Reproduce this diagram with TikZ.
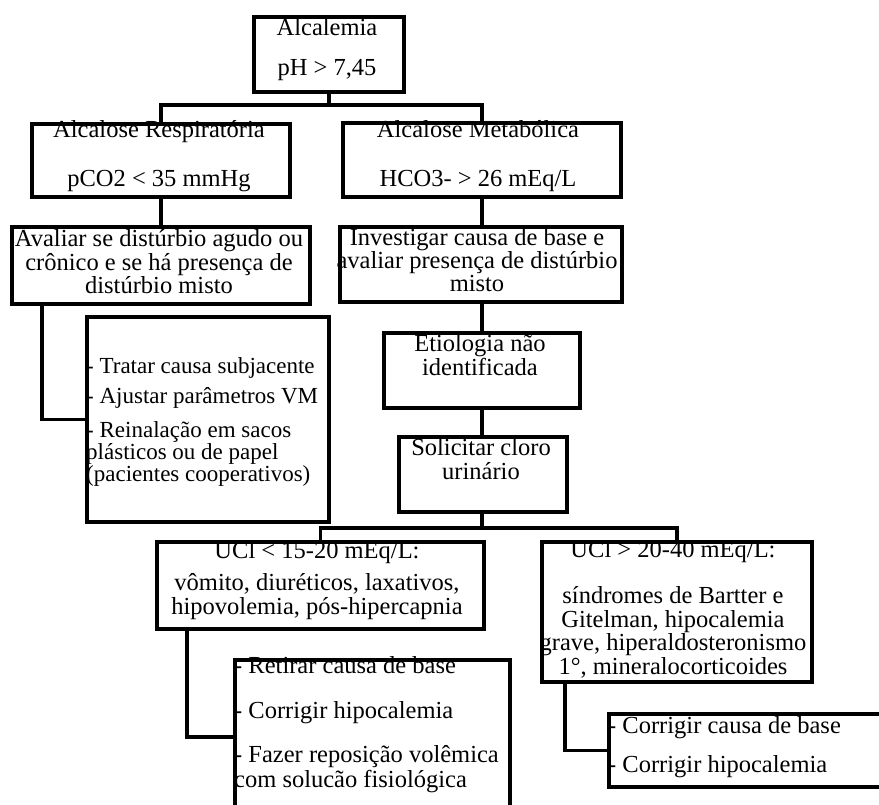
\documentclass[tikz,border=0pt]{standalone}
\usepackage{fontspec}
\setmainfont{Liberation Serif}
\begin{document}
\begin{tikzpicture}[x=1pt,y=-1pt,
  box/.style={draw,line width=3.5pt,rectangle,inner sep=0pt,anchor=north west},
  conn/.style={line width=3.5pt},
  txt/.style={font=\fontsize{24.5}{26}\selectfont,inner sep=0pt,anchor=base},
  txl/.style={txt,anchor=base west},
  small/.style={font=\fontsize{23}{25}\selectfont}]
\useasboundingbox (0,0) rectangle (879,804);
\clip (0,0) rectangle (879,804);
% boxes
\node[box,minimum width=150pt,minimum height=75pt] (A) at (252,15) {};
\node[box,minimum width=258pt,minimum height=73pt] (R) at (30,122) {};
\node[box,minimum width=278pt,minimum height=74pt] (M) at (341,121) {};
\node[box,minimum width=298pt,minimum height=77pt] (Av) at (10,225) {};
\node[box,minimum width=282pt,minimum height=75pt] (Inv) at (338,225) {};
\node[box,minimum width=242pt,minimum height=205pt] (T) at (85,315) {};
\node[box,minimum width=196pt,minimum height=75pt] (E) at (382,331) {};
\node[box,minimum width=168pt,minimum height=75pt] (S) at (397,435) {};
\node[box,minimum width=327pt,minimum height=87pt] (L) at (155,540) {};
\node[box,minimum width=270pt,minimum height=140pt] (G) at (540,540) {};
\node[box,minimum width=275pt,minimum height=154pt] (F) at (233,658) {};
\node[box,minimum width=290pt,minimum height=73pt] (C) at (607,712) {};
% connector points
\coordinate (bar1) at (327,105);
\coordinate (mIn) at (482,121);
\coordinate (mOut) at (482,195);
\coordinate (invIn) at (482,225);
\coordinate (invOut) at (482,300);
\coordinate (eIn) at (482,331);
\coordinate (eOut) at (482,406);
\coordinate (sIn) at (482,435);
\coordinate (sOut) at (482,510);
\coordinate (bar2) at (482,528);
\coordinate (avOut) at (42,302);
\coordinate (lOut) at (187,627);
\coordinate (gOut) at (565,680);
% connectors
\draw[conn] (A.south) -- (A.south |- bar1);
\draw[conn] (R.north) -- ++(0,-17) -| (mIn);
\draw[conn] (R.south) -- (Av.north);
\draw[conn] (mOut) -- (invIn);
\draw[conn] (invOut) -- (eIn);
\draw[conn] (eOut) -- (sIn);
\draw[conn] (sOut) -- (bar2);
\draw[conn] (L.north) -- ++(0,-12) -| (G.north);
\draw[conn] (avOut) |- (T.west);
\draw[conn] (lOut) |- (F.west);
\draw[conn] (gOut) |- (C.west);
% texts
\node[txt] (a1) at (327,35) {Alcalemia};
\node[txt] (a2) at (327,75) {pH > 7,45};
\node[txt] (r1) at (159,137) {Alcalose Respiratória};
\node[txt] (r2) at (159,186) {pCO2 < 35 mmHg};
\node[txt] (m1) at (478,137) {Alcalose Metabólica};
\node[txt] (m2) at (478,186) {HCO3- > 26 mEq/L};
\node[txt] (v1) at (159,246) {Avaliar se distúrbio agudo ou};
\node[txt] (v2) at (159,270) {crônico e se há presença de};
\node[txt] (v3) at (159,293) {distúrbio misto};
\node[txt] (i1) at (477,245) {Investigar causa de base e};
\node[txt] (i2) at (477,268) {avaliar presença de distúrbio};
\node[txt] (i3) at (477,291) {misto};
\node[txl,small] (t1) at (86,373) {- Tratar causa subjacente};
\node[txl,small] (t2) at (86,403) {- Ajustar parâmetros VM};
\node[txl,small] (t3) at (86,437) {- Reinalação em sacos};
\node[txl,small] (t4) at (86,459) {plásticos ou de papel};
\node[txl,small] (t5) at (86,481) {(pacientes cooperativos)};
\node[txt] (e1) at (480,351) {Etiologia não};
\node[txt] (e2) at (480,375) {identificada};
\node[txt] (s1) at (481,455) {Solicitar cloro};
\node[txt] (s2) at (481,479) {urinário};
\node[txt] (l1) at (317,558) {UCl < 15-20 mEq/L:};
\node[txt] (l2) at (317,590) {vômito, diuréticos, laxativos,};
\node[txt] (l3) at (317,614) {hipovolemia, pós-hipercapnia};
\node[txt] (g1) at (673,557) {UCl > 20-40 mEq/L:};
\node[txt] (g2) at (673,603) {síndromes de Bartter e};
\node[txt] (g3) at (673,627) {Gitelman, hipocalemia};
\node[txt] (g4) at (673,650) {grave, hiperaldosteronismo};
\node[txt] (g5) at (673,674) {1°, mineralocorticoides};
\node[txl] (f1) at (234,673) {- Retirar causa de base};
\node[txl] (f2) at (234,718) {- Corrigir hipocalemia};
\node[txl] (f3) at (234,762) {- Fazer reposição volêmica};
\node[txl] (f4) at (234,787) {com solucão fisiológica};
\node[txl] (c1) at (608,733) {- Corrigir causa de base};
\node[txl] (c2) at (608,772) {- Corrigir hipocalemia};
\end{tikzpicture}
\end{document}
